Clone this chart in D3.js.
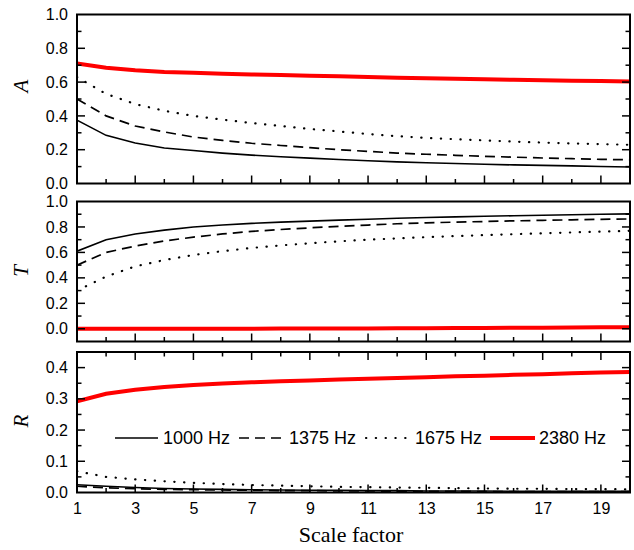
<!DOCTYPE html>
<html>
<head>
<meta charset="utf-8">
<script src="https://cdn.jsdelivr.net/npm/d3@7"></script>
<style>
  html, body { margin: 0; padding: 0; background: #fff; }
  svg { display: block; }
</style>
</head>
<body>
<div id="chart"></div>
<script>
// ---------------- DATA ----------------
const scaleFactors = [1,2,3,4,5,6,7,8,9,10,11,12,13,14,15,16,17,18,19,20];
const seriesNames = ["1000 Hz", "1375 Hz", "1675 Hz", "2380 Hz"];

// Absorption A
const A_1000 = [0.375,0.285,0.24,0.21,0.195,0.18,0.168,0.158,0.15,0.142,0.135,0.128,0.123,0.118,0.114,0.110,0.107,0.104,0.101,0.098];
const A_1375 = [0.50,0.40,0.34,0.305,0.275,0.255,0.238,0.225,0.212,0.20,0.19,0.18,0.173,0.167,0.161,0.156,0.151,0.147,0.143,0.14];
const A_1675 = [0.63,0.53,0.47,0.43,0.40,0.378,0.358,0.34,0.323,0.308,0.293,0.28,0.27,0.262,0.255,0.248,0.242,0.237,0.233,0.229];
const A_2380 = [0.71,0.685,0.67,0.66,0.655,0.65,0.645,0.642,0.638,0.634,0.63,0.626,0.623,0.62,0.617,0.614,0.611,0.608,0.606,0.603];

// Transmission T
const T_1000 = [0.61,0.70,0.745,0.775,0.80,0.815,0.828,0.838,0.846,0.854,0.861,0.868,0.874,0.879,0.884,0.888,0.892,0.896,0.90,0.903];
const T_1375 = [0.50,0.60,0.65,0.69,0.72,0.745,0.765,0.78,0.793,0.805,0.815,0.825,0.832,0.838,0.843,0.848,0.852,0.856,0.86,0.863];
const T_1675 = [0.30,0.41,0.49,0.54,0.58,0.61,0.635,0.655,0.672,0.687,0.70,0.71,0.72,0.728,0.736,0.743,0.75,0.757,0.763,0.77];
const T_2380 = [0.0,0.0,0.0,0.0,0.0,0.001,0.001,0.002,0.002,0.003,0.003,0.004,0.005,0.006,0.007,0.008,0.009,0.010,0.011,0.012];

// Reflection R
const R_1000 = [0.025,0.02,0.016,0.013,0.011,0.010,0.009,0.008,0.007,0.007,0.006,0.006,0.005,0.005,0.005,0.004,0.004,0.004,0.004,0.004];
const R_1375 = [0.02,0.015,0.012,0.01,0.009,0.008,0.007,0.006,0.006,0.005,0.005,0.004,0.004,0.004,0.003,0.003,0.003,0.003,0.003,0.003];
const R_1675 = [0.068,0.05,0.042,0.036,0.031,0.027,0.024,0.022,0.02,0.018,0.017,0.016,0.015,0.014,0.013,0.012,0.012,0.011,0.011,0.010];
const R_2380 = [0.292,0.316,0.329,0.338,0.344,0.349,0.353,0.356,0.359,0.362,0.364,0.367,0.369,0.372,0.374,0.377,0.379,0.382,0.384,0.386];

const xTickLabels = [1,3,5,7,9,11,13,15,17,19];
const A_ticks = [0.0,0.2,0.4,0.6,0.8,1.0];
const T_ticks = [0.0,0.2,0.4,0.6,0.8,1.0];
const R_ticks = [0.0,0.1,0.2,0.3,0.4];

// ---------------- LAYOUT ----------------
const W = 634, H = 550;
const left = 77, right = 630;
const styles = [
  {stroke:"#000", width:1.6, dash:null, cap:"butt"},
  {stroke:"#000", width:1.7, dash:"10,6", cap:"butt"},
  {stroke:"#000", width:2.2, dash:"0.3,9.5", cap:"round"},
  {stroke:"#ff0000", width:4, dash:null, cap:"butt"}
];

const svg = d3.select("#chart").append("svg").attr("width", W).attr("height", H);
const x = d3.scaleLinear().domain([1,20]).range([left, right]);

const panels = [
  {name:"A", data:[A_1000,A_1375,A_1675,A_2380], domain:[0,1.0], top:14.5, bottom:183.5, labels:A_ticks, minorStep:0.1, topTicks:false, titleY:86},
  {name:"T", data:[T_1000,T_1375,T_1675,T_2380], domain:[-0.1,1.0], top:201.5, bottom:341.5, labels:T_ticks, minorStep:0.1, topTicks:false, titleY:271},
  {name:"R", data:[R_1000,R_1375,R_1675,R_2380], domain:[0,0.45], top:352, bottom:492.5, labels:R_ticks, minorStep:0.05, topTicks:true, titleY:421}
];

const fontSans = "'Liberation Sans', Arial, sans-serif";
const fontSerif = "'Liberation Serif', 'Times New Roman', serif";

panels.forEach((p, pi) => {
  const y = d3.scaleLinear().domain(p.domain).range([p.bottom, p.top]);
  const g = svg.append("g");

  const clipId = "clip" + pi;
  svg.append("clipPath").attr("id", clipId).append("rect")
    .attr("x", left).attr("y", p.top - 3).attr("width", right - left).attr("height", p.bottom - p.top + 3);

  const line = d3.line().x((d,i) => x(scaleFactors[i])).y(d => y(d));
  p.data.forEach((arr, si) => {
    const s = styles[si];
    g.append("path").datum(arr)
      .attr("d", line)
      .attr("fill", "none")
      .attr("stroke", s.stroke)
      .attr("stroke-width", s.width)
      .attr("stroke-dasharray", s.dash)
      .attr("stroke-linecap", s.cap)
      .attr("clip-path", `url(#${clipId})`);
  });

  const minorVals = d3.range(Math.ceil(p.domain[0] / p.minorStep - 1e-6), Math.floor(p.domain[1] / p.minorStep + 1e-6) + 1)
    .map(k => +(k * p.minorStep).toFixed(4))
    .filter(v => v > p.domain[0] + 1e-6 && v < p.domain[1] - 1e-6);
  const isMajor = v => p.labels.some(l => Math.abs(l - v) < 1e-6);
  minorVals.forEach(v => {
    const len = isMajor(v) ? 8 : 4.5;
    g.append("line").attr("x1", left).attr("x2", left + len).attr("y1", y(v)).attr("y2", y(v))
      .attr("stroke", "#000").attr("stroke-width", 1.5);
    g.append("line").attr("x1", right).attr("x2", right - len).attr("y1", y(v)).attr("y2", y(v))
      .attr("stroke", "#000").attr("stroke-width", 1.5);
  });
  const yAxis = d3.axisLeft(y).tickValues(p.labels).tickSize(0).tickPadding(9).tickFormat(d3.format(".1f"));
  const ya = g.append("g").attr("transform", `translate(${left},0)`).call(yAxis);
  ya.select(".domain").remove();
  ya.selectAll("text").attr("font-family", fontSans).attr("font-size", 16).attr("fill", "#000");

  scaleFactors.forEach(v => {
    if (v === 1 || v === 20) return;
    const len = (v % 2 === 1) ? 8 : 4.5;
    g.append("line").attr("x1", x(v)).attr("x2", x(v)).attr("y1", p.bottom).attr("y2", p.bottom - len)
      .attr("stroke", "#000").attr("stroke-width", 1.5);
    if (p.topTicks) {
      g.append("line").attr("x1", x(v)).attr("x2", x(v)).attr("y1", p.top).attr("y2", p.top + len)
        .attr("stroke", "#000").attr("stroke-width", 1.5);
    }
  });

  g.append("rect").attr("x", left).attr("y", p.top).attr("width", right - left).attr("height", p.bottom - p.top)
    .attr("fill", "none").attr("stroke", "#000").attr("stroke-width", 2);

  g.append("text")
    .attr("transform", `translate(28,${p.titleY}) rotate(-90)`)
    .attr("text-anchor", "middle")
    .attr("font-family", fontSerif).attr("font-style", "italic").attr("font-size", 21)
    .attr("fill", "#000")
    .text(p.name);

  if (pi === 2) {
    const xAxis = d3.axisBottom(x).tickValues(xTickLabels).tickSize(0).tickPadding(10).tickFormat(d3.format("d"));
    const xa = g.append("g").attr("transform", `translate(0,${p.bottom})`).call(xAxis);
    xa.select(".domain").remove();
    xa.selectAll("text").attr("font-family", fontSans).attr("font-size", 16).attr("fill", "#000");

    const legY = 438;
    const legItems = [
      {x1:115, x2:158, tx:163},
      {x1:239, x2:284, tx:289},
      {x1:366, x2:411, tx:415},
      {x1:490, x2:535, tx:539}
    ];
    legItems.forEach((it, si) => {
      const s = styles[si];
      g.append("line").attr("x1", it.x1).attr("x2", it.x2).attr("y1", legY).attr("y2", legY)
        .attr("stroke", s.stroke).attr("stroke-width", s.width)
        .attr("stroke-dasharray", s.dash)
        .attr("stroke-linecap", s.cap);
      g.append("text").attr("x", it.tx).attr("y", legY).attr("dy", "0.36em")
        .attr("font-family", fontSans).attr("font-size", 18).attr("fill", "#000")
        .text(seriesNames[si]);
    });
  }
});

svg.append("text").attr("x", 351).attr("y", 542)
  .attr("text-anchor", "middle").attr("font-family", fontSerif).attr("font-size", 22).attr("fill", "#000")
  .text("Scale factor");
</script>
</body>
</html>
